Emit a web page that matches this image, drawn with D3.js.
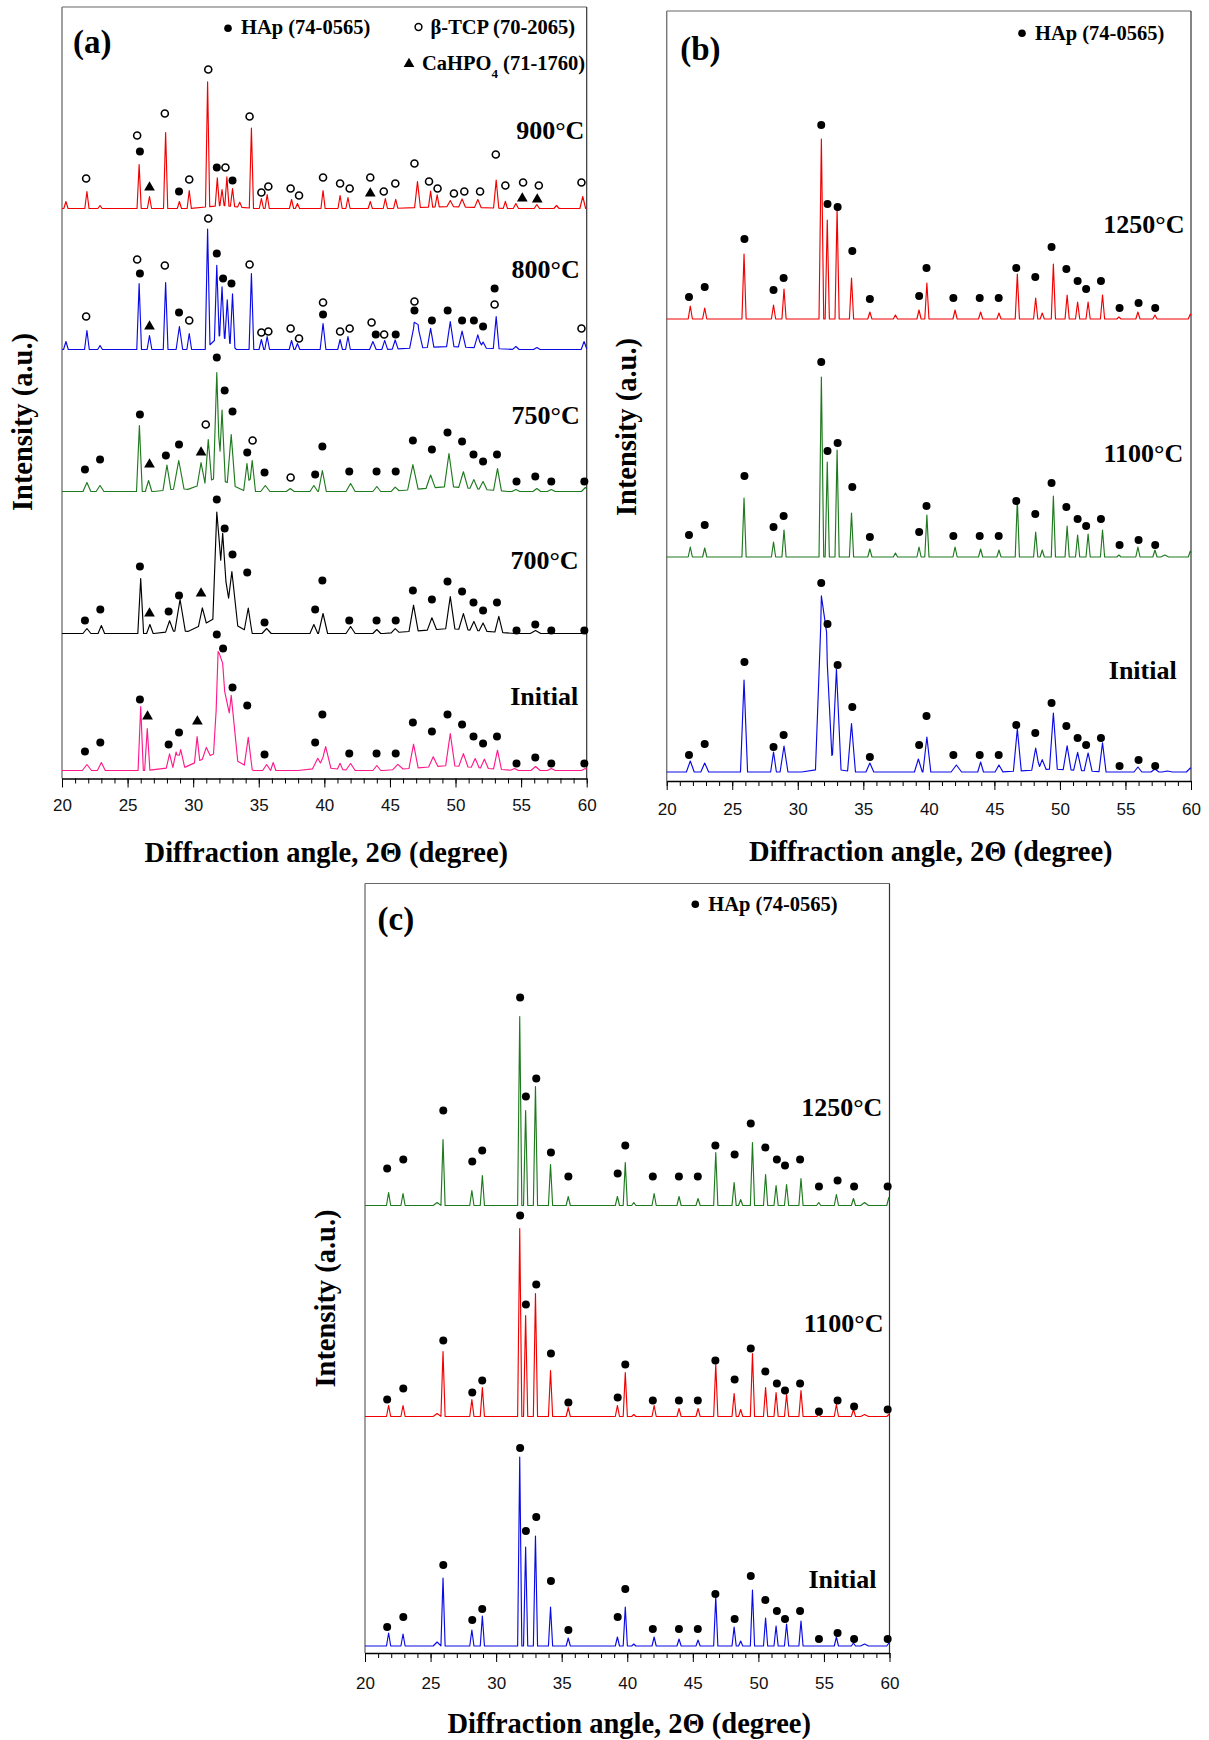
<!DOCTYPE html>
<html>
<head>
<meta charset="utf-8">
<script src="https://cdn.jsdelivr.net/npm/d3@7"></script>
<style>
  body { margin: 0; background: #fff; }
</style>
</head>
<body>
<div id="chart"></div>
<script>
// ---------- data: XRD peaks ----------
// peak = [2theta, intensity (a.u. above the pattern baseline), half width at base (deg, optional)]
// hump = broad background bump [2theta, intensity, half width]

const majorTicks = [20, 25, 30, 35, 40, 45, 50, 55, 60];

// panel (a)
const a900Peaks = [[20.3,7],[21.9,17],[22.9,3],[25.88,44],[26.67,12],[27.9,76],[28.95,7],[29.7,18],[31.1,125],[31.84,28],[32.2,16],[32.57,29],[33.0,18],[33.55,5],[34.44,80],[35.2,10],[35.64,14],[37.5,9],[37.95,5],[39.9,18],[41.2,13],[41.8,11],[43.5,7],[44.65,10],[45.44,9],[47.1,26,0.22],[48.1,16],[48.6,12],[49.6,6,0.25],[50.5,8,0.25],[51.7,8,0.25],[53.1,28,0.2],[53.8,7],[54.6,5,0.2],[56.2,4,0.2],[57.7,3,0.2],[59.7,12,0.22]];
const a900Humps = [[32.2,3,2.5],[49.5,2,4.5]];
const a900Hap = [[25.94,57],[28.92,17],[31.8,41],[33.0,28]];
const a900Tcp = [[21.84,30],[25.73,73],[27.84,95],[29.7,29],[31.15,139],[32.46,41],[34.3,92],[35.2,16],[35.73,22],[37.43,20],[38.07,13],[39.9,31],[41.2,25],[41.93,20],[43.5,31],[44.53,17],[45.41,25],[46.87,45],[47.98,27],[48.63,20],[49.88,15],[50.67,17],[51.87,17],[53.07,54],[53.8,23],[55.15,26],[56.35,23],[59.6,26]];
const a900Tri = [[26.67,22],[43.5,16],[55.09,11],[56.23,10]];

const a800Peaks = [[20.3,8],[21.9,19],[22.9,4],[25.88,66],[26.67,14],[27.9,67],[28.95,23,0.25],[29.7,16],[31.1,118],[31.8,73],[32.2,49],[32.6,41],[33.0,52],[34.44,76],[35.2,10],[35.64,13],[37.5,9],[37.95,6],[39.9,26,0.22],[41.2,10],[41.8,13],[43.7,8,0.25],[44.6,9,0.22],[45.4,9,0.22],[46.85,23,0.35],[47.15,20,0.35],[48.1,19,0.25],[49.6,25,0.28],[50.5,16,0.28],[51.7,13,0.28],[52.1,6,0.25],[53.1,32,0.22],[54.6,3,0.25],[56.2,2,0.25],[59.8,8,0.22]];
const a800Humps = [[32.1,15,1.2],[49.5,3,5]];
const a800Hap = [[25.94,76],[28.92,37],[31.8,96],[32.28,71],[32.92,66],[39.9,35],[43.92,15],[45.44,15],[46.87,39],[48.2,29],[49.4,39],[50.5,29],[51.4,29],[52.1,23],[52.98,61]];
const a800Tcp = [[21.84,33],[25.73,90],[27.84,84],[29.7,29],[31.15,131],[34.3,85],[35.2,17],[35.73,18],[37.43,21],[38.07,11],[39.9,47],[41.2,18],[41.93,21],[43.6,27],[44.56,15],[46.87,48],[52.98,45],[59.6,21]];
const a800Tri = [[26.67,24]];

const a750Peaks = [[21.9,9,0.3],[22.9,6,0.3],[25.9,66,0.22],[26.6,11],[28.0,25,0.3],[28.9,28,0.4],[30.6,22,0.3],[31.15,42],[31.8,105],[32.2,70],[32.9,50,0.3],[34.1,28],[34.5,31],[35.5,6,0.35],[37.4,3,0.3],[39.2,6,0.3],[39.85,21,0.3],[42.0,8,0.35],[44.0,5,0.3],[45.4,4,0.3],[46.75,25,0.4],[48.1,13,0.35],[49.5,33,0.35],[50.6,16,0.35],[51.4,9,0.3],[52.1,8,0.3],[53.2,22,0.3],[54.6,2,0.3],[56.2,3,0.3],[57.3,2,0.3],[59.9,4,0.3]];
const a750Humps = [[31.8,14,2.2],[49.5,5,4.5],[29,3,2]];
const a750Hap = [[21.75,22],[22.9,32],[25.94,77],[27.92,36],[28.92,47],[31.8,134],[32.4,101],[33.0,80],[34.12,39],[35.44,19],[39.3,17],[39.85,45],[41.9,20],[43.98,20],[45.44,20],[46.75,51],[48.2,42],[49.39,59],[50.5,50],[51.37,37],[52.1,30],[53.16,37],[54.65,10],[56.08,15],[57.3,10],[59.82,10]];
const a750Tcp = [[30.96,67],[34.53,51],[37.43,14]];
const a750Tri = [[26.67,28],[30.6,40]];

const a700Peaks = [[21.9,5,0.3],[23.0,8],[26.0,55,0.22],[26.7,9],[28.2,11,0.3],[29.0,31,0.4],[30.7,17,0.3],[31.8,105,0.3],[32.25,84,0.45],[32.95,51,0.45],[34.2,24,0.3],[35.6,5,0.35],[39.2,9,0.3],[39.9,20,0.35],[42.0,7,0.35],[44.0,4,0.3],[45.4,4,0.3],[46.8,26,0.35],[48.2,12,0.35],[49.6,32,0.35],[50.6,16,0.35],[51.4,9,0.3],[52.1,8,0.3],[53.3,16,0.3],[56.1,3,0.4]];
const a700Humps = [[32.0,18,2.4],[49.5,5,5],[29,3,2]];
const a700Hap = [[21.75,13],[22.92,24],[25.94,67],[28.13,22],[28.92,38],[31.8,134],[32.4,105],[33.0,79],[34.12,61],[35.44,11],[39.3,24],[39.85,53],[41.9,13],[43.98,13],[45.44,13],[46.75,43],[48.2,34],[49.39,52],[50.5,42],[51.37,31],[52.1,23],[53.16,31],[54.65,3],[56.08,9],[57.3,3],[59.82,3]];
const a700Tri = [[26.67,21],[30.6,41]];

const aInitPeaks = [[21.9,6,0.35],[23.0,8,0.3],[26.0,64,0.2],[26.5,42,0.2],[28.2,14],[28.7,15],[29.05,17,0.3],[30.3,25,0.2],[31.0,10,0.3],[31.9,73,0.35],[32.25,89,0.5],[32.9,62,0.5],[34.2,30,0.3],[35.6,6,0.3],[36.1,8,0.2],[39.5,10,0.4],[40.1,21,0.4],[41.2,6,0.2],[42.0,7,0.35],[44.0,5,0.3],[45.6,5,0.4],[46.8,24,0.35],[48.3,10,0.35],[49.6,32,0.35],[50.6,13,0.35],[51.5,9,0.3],[52.2,9,0.3],[53.2,19,0.3],[54.5,2,0.3],[56.1,4,0.35],[57.3,2,0.3],[59.9,2,0.3]];
const aInitHumps = [[32.0,20,2.6],[49.5,5,5],[29,4,2.5],[40,3,2]];
const aInitHap = [[21.75,19],[22.92,28],[25.94,71],[28.13,26],[28.92,38],[31.8,136],[32.28,122],[33.0,83],[34.12,65],[35.44,16],[39.3,28],[39.85,56],[41.9,17],[43.98,17],[45.44,17],[46.75,48],[48.2,39],[49.39,56],[50.5,46],[51.37,34],[52.1,27],[53.16,34],[54.65,7],[56.08,13],[57.3,7],[59.82,7]];
const aInitTri = [[26.52,55],[30.32,50]];

// panel (b)
const b1250Peaks = [[21.8,13],[22.9,11],[25.9,65],[28.15,14],[28.95,30],[31.8,180,0.18],[32.25,99],[33.0,110],[34.1,41],[35.5,7],[37.45,4],[39.25,9],[39.85,36],[42.0,9],[43.95,7],[45.35,6],[46.75,45],[48.15,21],[48.65,6],[49.5,55],[50.55,24],[51.35,17],[52.15,17],[53.25,24],[54.5,2],[55.95,7],[57.25,4],[59.95,5]];
const b1100Peaks = [[21.8,10],[22.9,9],[25.9,59],[28.15,15],[28.95,27],[31.8,180,0.18],[32.25,95],[33.0,107],[34.1,44],[35.5,8],[37.45,4],[39.25,10],[39.85,42],[42.0,10],[43.95,8],[45.35,7],[46.75,57],[48.15,25],[48.65,7],[49.5,61],[50.55,31],[51.35,22],[52.15,23],[53.25,27],[54.5,2],[55.95,10],[57.25,7],[58.0,2,0.3],[59.95,6]];
const bInitPeaks = [[21.8,11,0.3],[22.9,9,0.3],[25.9,92,0.27],[28.15,20,0.22],[28.95,26,0.3],[31.8,160,0.45],[32.2,118,0.45],[32.95,100,0.35],[34.1,48,0.3],[35.5,9,0.3],[39.2,13,0.3],[39.85,35,0.3],[42.1,7,0.4],[43.95,10,0.22],[45.35,7,0.3],[46.75,42,0.3],[48.15,22,0.3],[48.65,10,0.3],[49.5,56,0.3],[50.55,24,0.3],[51.35,18,0.3],[52.15,18,0.3],[53.25,29,0.27],[55.95,5,0.3],[57.25,3,0.3],[58.2,1,0.4],[59.95,4,0.3]];
const bMarkPos = [21.7,22.9,25.93,28.15,28.92,31.79,32.27,33.04,34.16,35.5,39.26,39.82,41.87,43.88,45.33,46.67,48.12,49.36,50.49,51.35,52.0,53.13,54.55,56.0,57.27];
const b1250Marks = [22,32,80,29,41,194,115,112,68,20,23,51,21,21,21,51,42,72,50,38,30,38,11,16,11];
const b1100Marks = [22,32,81,30,41,195,106,114,70,20,25,51,21,21,21,56,43,74,50,38,31,38,12,17,12];
const bInitMarks = [17,28,110,25,37,189,148,107,65,15,27,56,17,17,17,47,39,69,46,34,27,34,6,12,6];

// panel (c)
const c1250Peaks = [[21.8,13],[22.9,12],[25.5,3,0.3],[25.95,66],[28.15,15],[28.95,30],[31.8,189],[32.25,95],[33.0,119],[34.15,41],[35.5,9],[39.25,9],[39.85,43],[40.5,3],[42.05,12],[43.95,9],[45.4,7],[46.75,53],[48.15,23],[48.65,6],[49.55,63],[50.55,31],[51.35,20],[52.15,21],[53.25,27],[54.6,3],[55.95,11],[57.25,7],[58.1,3,0.3],[59.95,8]];
const c1100Peaks = [[21.8,11],[22.9,11],[25.5,3,0.3],[25.95,65],[28.15,17],[28.95,29],[31.8,188],[32.25,101],[33.0,123],[34.15,46],[35.5,9],[39.25,11],[39.85,44],[40.5,2],[42.05,11],[43.95,8],[45.4,8],[46.75,52],[48.15,23],[48.65,7],[49.55,63],[50.55,29],[51.35,24],[52.15,22],[53.25,26],[54.6,2],[55.95,12],[57.25,7],[58.1,2,0.3],[59.95,2]];
const cInitPeaks = [[21.8,13],[22.9,12],[25.5,4,0.3],[25.95,68],[28.15,16],[28.95,30],[31.8,189],[32.25,99],[33.0,110],[34.15,39],[35.5,8],[39.25,9],[39.85,39],[40.5,2],[42.05,9],[43.95,7],[45.4,6],[46.75,49],[48.15,19],[48.65,5],[49.55,56],[50.55,28],[51.35,20],[52.15,22],[53.25,25],[55.95,9],[57.25,3],[58.1,2,0.3],[59.95,3]];
const cMarkPos = [21.69,22.92,25.97,28.18,28.94,31.83,32.27,33.06,34.18,35.51,39.27,39.85,41.95,43.94,45.38,46.72,48.19,49.42,50.53,51.41,52.03,53.18,54.62,56.04,57.3,59.86];
const c1250Marks = [37,46,95,44,55,208,109,127,53,29,32,60,29,29,29,60,51,82,58,46,40,46,19,25,19,19];
const c1100Marks = [17,28,76,24,36,201,112,132,63,14,19,52,16,16,16,56,37,68,45,33,26,33,5,16,10,7];
const cInitMarks = [19,29,81,26,37,198,115,129,65,16,29,57,17,17,17,52,27,70,46,35,27,35,7,13,7,7];

// ---------- series tables ----------
const seriesA = [
  {name: "900°C", color: "#f20000", offset: 570, hw: 0.16, peaks: a900Peaks, humps: a900Humps, hap: a900Hap, tcp: a900Tcp, tri: a900Tri, label: [59.82, 640]},
  {name: "800°C", color: "#0a0ae6", offset: 429, hw: 0.18, peaks: a800Peaks, humps: a800Humps, hap: a800Hap, tcp: a800Tcp, tri: a800Tri, label: [59.47, 501]},
  {name: "750°C", color: "#1f7a1f", offset: 287, hw: 0.25, peaks: a750Peaks, humps: a750Humps, hap: a750Hap, tcp: a750Tcp, tri: a750Tri, label: [59.47, 355]},
  {name: "700°C", color: "#000000", offset: 145, hw: 0.25, peaks: a700Peaks, humps: a700Humps, hap: a700Hap, tcp: [], tri: a700Tri, label: [59.38, 210]},
  {name: "Initial", color: "#ff1a8c", offset: 8, hw: 0.25, peaks: aInitPeaks, humps: aInitHumps, hap: aInitHap, tcp: [], tri: aInitTri, label: [59.35, 73.5]}
];
const seriesB = [
  {name: "1250°C", color: "#f20000", offset: 462, hw: 0.16, peaks: b1250Peaks, humps: [], hap: d3.zip(bMarkPos, b1250Marks), tcp: [], tri: [], label: [59.5, 547.7]},
  {name: "1100°C", color: "#1f7a1f", offset: 224, hw: 0.16, peaks: b1100Peaks, humps: [], hap: d3.zip(bMarkPos, b1100Marks), tcp: [], tri: [], label: [59.41, 319.3]},
  {name: "Initial", color: "#0a0ae6", offset: 9, hw: 0.25, peaks: bInitPeaks, humps: [[32.3,4,2],[49.5,3,4]], hap: d3.zip(bMarkPos, bInitMarks), tcp: [], tri: [], label: [58.91, 101.7]}
];
const seriesC = [
  {name: "1250°C", color: "#1f7a1f", offset: 447.5, hw: 0.16, peaks: c1250Peaks, humps: [], hap: d3.zip(cMarkPos, c1250Marks), tcp: [], tri: [], label: [59.46, 537.3]},
  {name: "1100°C", color: "#f20000", offset: 236.5, hw: 0.16, peaks: c1100Peaks, humps: [], hap: d3.zip(cMarkPos, c1100Marks), tcp: [], tri: [], label: [59.54, 321.3]},
  {name: "Initial", color: "#0a0ae6", offset: 7, hw: 0.16, peaks: cInitPeaks, humps: [], hap: d3.zip(cMarkPos, cInitMarks), tcp: [], tri: [], label: [59.0, 65.3]}
];

const panels = [
  {tag: "(a)", left: 62, right: 586.7, top: 7, bottom: 778.5, tickPad: 11, tagDx: 11, tagDy: 46, ylabX: 31.5, ylabY: 422, xlabY: 862, series: seriesA, legend: "a"},
  {tag: "(b)", left: 666.7, right: 1191, top: 11, bottom: 781, tickPad: 13, tagDx: 13.5, tagDy: 48.5, ylabX: 635.5, ylabY: 427, xlabY: 861, series: seriesB, legend: "hap", legDx: 355.3, legDy: 22.3},
  {tag: "(c)", left: 365, right: 889.5, top: 883.5, bottom: 1653, tickPad: 15, tagDx: 12.5, tagDy: 46, ylabX: 335, ylabY: 1298.5, xlabY: 1733, series: seriesC, legend: "hap", legDx: 330.3, legDy: 20.8}
];

// ---------- drawing ----------
const svg = d3.select("#chart").append("svg")
    .attr("width", 1209)
    .attr("height", 1740)
    .style("font-family", "'Liberation Serif', 'Times New Roman', serif");

// build the pattern outline from the peak table (sum of triangular peaks)
function profile(s) {
  const all = s.peaks.map(p => [p[0], p[1], p[2] || s.hw]).concat(s.humps);
  let xs = [20, 60];
  all.forEach(p => xs.push(p[0] - p[2], p[0], p[0] + p[2]));
  xs = Array.from(new Set(xs.filter(v => v >= 20 && v <= 60))).sort((a, b) => a - b);
  return xs.map(v => [v, d3.sum(all, p => Math.max(0, p[1] * (1 - Math.abs(v - p[0]) / p[2])))]);
}

const triangle = d3.symbol().type(d3.symbolTriangle).size(50);

function drawPanel(p) {
  const x = d3.scaleLinear().domain([20, 60]).range([p.left, p.right]);
  const y = d3.scaleLinear().domain([0, p.bottom - p.top]).range([p.bottom, p.top]);
  const g = svg.append("g");

  // frame
  g.append("line").attr("x1", p.left).attr("x2", p.right).attr("y1", p.top).attr("y2", p.top)
    .attr("stroke", "#666").attr("stroke-width", 1.2);
  g.append("line").attr("x1", p.left).attr("x2", p.left).attr("y1", p.top).attr("y2", p.bottom)
    .attr("stroke", "#777").attr("stroke-width", 1.4);
  g.append("line").attr("x1", p.right).attr("x2", p.right).attr("y1", p.top).attr("y2", p.bottom)
    .attr("stroke", "#333").attr("stroke-width", 1.2);

  // x axis: minor ticks every degree, major every 5
  g.append("g").attr("transform", `translate(0,${p.bottom})`)
    .call(d3.axisBottom(x).tickValues(d3.range(20, 61, 1)).tickSize(5).tickSizeOuter(0).tickFormat(""))
    .call(a => a.select(".domain").attr("stroke", "#000").attr("stroke-width", 1.3));
  g.append("g").attr("transform", `translate(0,${p.bottom})`)
    .call(d3.axisBottom(x).tickValues(majorTicks).tickSize(9).tickSizeOuter(0).tickPadding(p.tickPad).tickFormat(d3.format("d")))
    .call(a => a.select(".domain").remove())
    .call(a => a.selectAll("text").attr("font-family", "'Liberation Sans', Arial, sans-serif")
      .attr("font-size", 17).attr("fill", "#111"));

  // patterns
  const line = d3.line().x(d => x(d[0])).y(d => y(d[1]));
  p.series.forEach(s => {
    const pts = profile(s).map(d => [d[0], d[1] + s.offset]);
    g.append("path").datum(pts).attr("d", line)
      .attr("fill", "none").attr("stroke", s.color).attr("stroke-width", 1.15).attr("stroke-linejoin", "round");

    g.selectAll(null).data(s.hap).join("circle")
      .attr("cx", d => x(d[0])).attr("cy", d => y(d[1] + s.offset)).attr("r", 4).attr("fill", "#000");
    g.selectAll(null).data(s.tcp).join("circle")
      .attr("cx", d => x(d[0])).attr("cy", d => y(d[1] + s.offset)).attr("r", 3.5)
      .attr("fill", "#fff").attr("stroke", "#000").attr("stroke-width", 1.6);
    g.selectAll(null).data(s.tri).join("path")
      .attr("d", triangle).attr("transform", d => `translate(${x(d[0])},${y(d[1] + s.offset) + 1})`).attr("fill", "#000");

    g.append("text").attr("x", x(s.label[0])).attr("y", y(s.label[1]))
      .attr("text-anchor", "end").attr("font-size", 26).attr("font-weight", "bold").text(s.name);
  });

  // panel tag
  g.append("text").attr("x", p.left + p.tagDx).attr("y", p.top + p.tagDy)
    .attr("font-size", 33).attr("font-weight", "bold").text(p.tag);

  // axis titles
  g.append("text").attr("x", (p.left + p.right) / 2 + 2).attr("y", p.xlabY)
    .attr("text-anchor", "middle").attr("font-size", 28.5).attr("font-weight", "bold")
    .text("Diffraction angle, 2Θ (degree)");
  g.append("text").attr("transform", `translate(${p.ylabX},${p.ylabY}) rotate(-90)`)
    .attr("text-anchor", "middle").attr("font-size", 28.5).attr("font-weight", "bold")
    .text("Intensity (a.u.)");

  // legends
  const lg = g.append("g").attr("font-size", 20.5).attr("font-weight", "bold");
  if (p.legend === "a") {
    lg.append("circle").attr("cx", p.left + 166).attr("cy", p.top + 21.3).attr("r", 3.8);
    lg.append("text").attr("x", p.left + 179).attr("y", p.top + 27.3).text("HAp (74-0565)");
    lg.append("circle").attr("cx", p.left + 356.5).attr("cy", p.top + 20).attr("r", 3.4)
      .attr("fill", "#fff").attr("stroke", "#000").attr("stroke-width", 1.5);
    lg.append("text").attr("x", p.left + 368.5).attr("y", p.top + 27.3).text("β-TCP (70-2065)");
    lg.append("path").attr("d", triangle).attr("transform", `translate(${p.left + 347},${p.top + 57})`);
    const t = lg.append("text").attr("x", p.left + 360).attr("y", p.top + 63.3);
    t.append("tspan").text("CaHPO");
    t.append("tspan").attr("dy", 8).attr("font-size", 13).text("4");
    t.append("tspan").attr("dy", -8).text(" (71-1760)");
  } else {
    const lx = p.left + p.legDx, ly = p.top + p.legDy;
    lg.append("circle").attr("cx", lx).attr("cy", ly).attr("r", 3.8);
    lg.append("text").attr("x", lx + 13).attr("y", ly + 6.5).text("HAp (74-0565)");
  }
}

panels.forEach(drawPanel);
</script>
</body>
</html>
